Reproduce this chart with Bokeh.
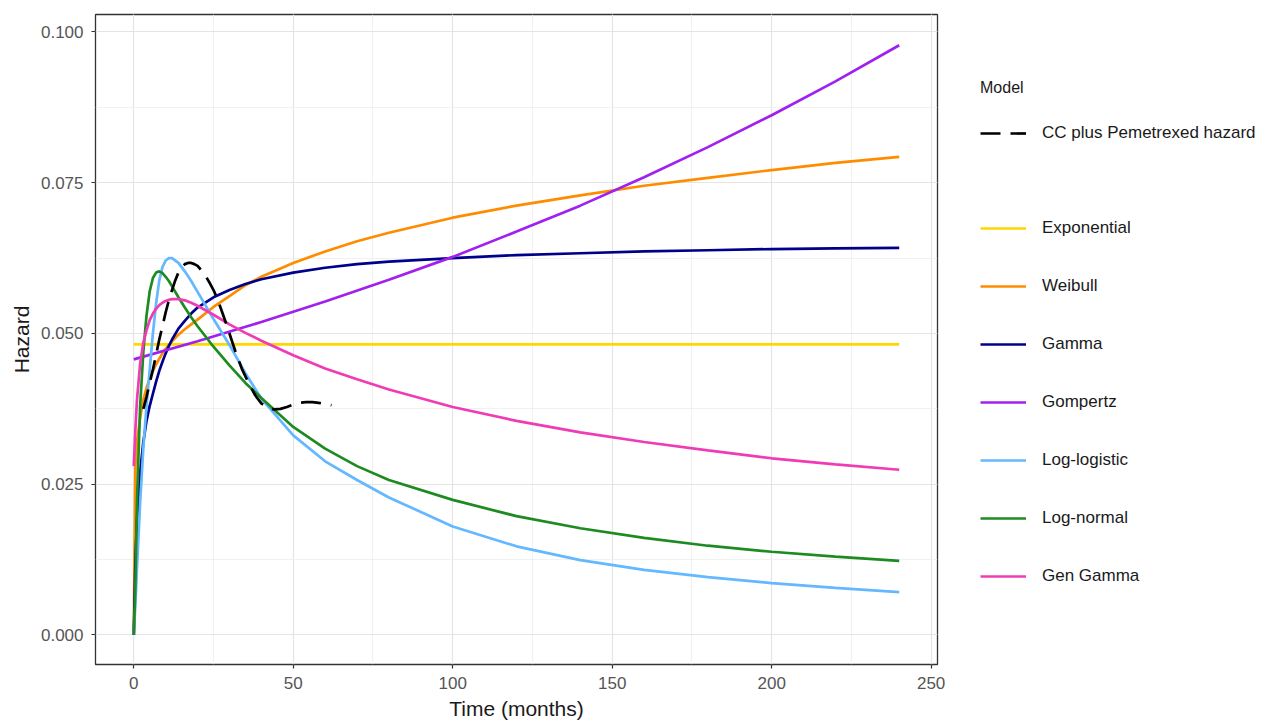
from bokeh.plotting import figure
from bokeh.layouts import row
from bokeh.models import (Legend, LegendItem, Range1d, SingleIntervalTicker,
                          NumeralTickFormatter)
from bokeh.embed import file_html
from bokeh.resources import INLINE

# ---- data: hazard curves (time in months) ----
model_t = [0, 0.5, 1, 2, 3, 4, 5, 6, 7, 8, 9, 10, 11, 12, 14, 16, 18, 20,
           25, 30, 35, 40, 50, 60, 70, 80, 100, 120, 140, 160, 180, 200, 220, 240]

weibull = [0.0, 0.0280, 0.0320, 0.0360, 0.0390, 0.0410, 0.0425, 0.0438, 0.0449,
           0.0458, 0.0467, 0.0475, 0.0481, 0.0487, 0.0498, 0.0507, 0.0515, 0.0523,
           0.0544, 0.0562, 0.0580, 0.0594, 0.0617, 0.0636, 0.0653, 0.0667, 0.0692,
           0.0712, 0.0729, 0.0745, 0.0758, 0.0771, 0.0783, 0.0793]

gamma = [0.0, 0.0120, 0.0190, 0.0270, 0.0320, 0.0355, 0.0380, 0.0400, 0.0420,
         0.0438, 0.0453, 0.0467, 0.0479, 0.0490, 0.0508, 0.0521, 0.0533, 0.0543,
         0.0560, 0.0572, 0.0582, 0.0590, 0.0601, 0.0609, 0.0615, 0.0619, 0.0625,
         0.0630, 0.0633, 0.0636, 0.0638, 0.0640, 0.0641, 0.0642]

log_logistic = [0.0, 0.0050, 0.0110, 0.0220, 0.0310, 0.0380, 0.0440, 0.0500, 0.0550,
                0.0588, 0.0610, 0.0621, 0.0625, 0.0625, 0.0617, 0.0603, 0.0587, 0.0569,
                0.0524, 0.0481, 0.0434, 0.0392, 0.0331, 0.0288, 0.0257, 0.0228, 0.0180,
                0.0147, 0.0124, 0.0108, 0.0096, 0.0086, 0.0078, 0.0071]

log_normal = [0.0, 0.0080, 0.0220, 0.0380, 0.0470, 0.0530, 0.0570, 0.0592, 0.0601,
              0.0603, 0.0600, 0.0594, 0.0587, 0.0578, 0.0560, 0.0543, 0.0527, 0.0512,
              0.0478, 0.0447, 0.0418, 0.0393, 0.0345, 0.0309, 0.0280, 0.0257, 0.0224,
              0.0197, 0.0177, 0.0161, 0.0148, 0.0138, 0.0130, 0.0123]

gen_gamma = [0.0280, 0.0340, 0.0390, 0.0450, 0.0485, 0.0505, 0.0522, 0.0533, 0.0541,
             0.0547, 0.0551, 0.0554, 0.0556, 0.0557, 0.0557, 0.0555, 0.0551, 0.0546,
             0.0531, 0.0515, 0.0501, 0.0488, 0.0464, 0.0442, 0.0424, 0.0407, 0.0378,
             0.0355, 0.0336, 0.0320, 0.0306, 0.0293, 0.0283, 0.0274]

exp_t = [0, 240]
exponential = [0.0482, 0.0482]

gomp_t = [0, 20, 40, 60, 80, 100, 120, 140, 160, 180, 200, 220, 240]
gompertz = [0.0457, 0.0487, 0.0519, 0.0553, 0.0589, 0.0627, 0.0669, 0.0712,
            0.0759, 0.0809, 0.0862, 0.0918, 0.0978]

# observed (smoothed) hazard of the trial arm
obs_t = [3, 4, 5, 6, 7, 8, 9, 10, 11, 12, 13, 14, 15, 16, 17, 18, 19, 20, 21, 22,
         23, 24, 25, 26, 27, 28, 29, 30, 32, 34, 36, 38, 40, 42, 44, 46, 48, 50,
         52, 54, 56, 58, 60, 62]
obs_h = [0.0375, 0.0395, 0.0418, 0.0440, 0.0465, 0.0490, 0.0512, 0.0535, 0.0555,
         0.0572, 0.0588, 0.0601, 0.0610, 0.0615, 0.0617, 0.0617, 0.0615, 0.0612,
         0.0606, 0.0599, 0.0591, 0.0582, 0.0572, 0.0560, 0.0546, 0.0531, 0.0516,
         0.0500, 0.0468, 0.0440, 0.0418, 0.0398, 0.0384, 0.0377, 0.0374, 0.0375,
         0.0378, 0.0382, 0.0385, 0.0386, 0.0386, 0.0385, 0.0383, 0.0381]

model_names = ["Exponential", "Weibull", "Gamma", "Gompertz", "Log-logistic",
               "Log-normal", "Gen Gamma"]
model_colors = ["#FFD700", "#FF8C00", "#00008B", "#A020F0", "#63B8FF",
                "#1E8B22", "#F03CB4"]
model_series = [(exp_t, exponential), (model_t, weibull), (model_t, gamma),
                (gomp_t, gompertz), (model_t, log_logistic), (model_t, log_normal),
                (model_t, gen_gamma)]

FONT = "Liberation Sans"
LW = 2.7
DASH = "20 10"

# ---- main panel ----
p = figure(width=945, height=722,
           x_range=Range1d(-12, 252), y_range=Range1d(-0.0049, 0.1029),
           min_border_left=95, min_border_right=8, min_border_top=14,
           min_border_bottom=58, output_backend="svg", toolbar_location=None,
           background_fill_color="white", border_fill_color="white")

p.outline_line_color = "#333333"
p.outline_line_width = 1.3

xt = SingleIntervalTicker(interval=50, num_minor_ticks=2)
yt = SingleIntervalTicker(interval=0.025, num_minor_ticks=2)
p.xaxis.ticker = xt
p.yaxis.ticker = yt
p.xgrid.ticker = xt
p.ygrid.ticker = yt
for g in (p.xgrid, p.ygrid):
    g.grid_line_color = "#E4E4E4"
    g.grid_line_width = 1.2
    g.minor_grid_line_color = "#EDEDED"
    g.minor_grid_line_width = 0.8

p.yaxis.formatter = NumeralTickFormatter(format="0.000")
for ax in (p.xaxis, p.yaxis):
    ax.axis_line_color = None
    ax.major_tick_out = 4
    ax.major_tick_in = 0
    ax.minor_tick_out = 0
    ax.minor_tick_in = 0
    ax.major_tick_line_color = "#333333"
    ax.major_tick_line_width = 1.2
    ax.major_label_text_font = FONT
    ax.major_label_text_font_size = "17px"
    ax.major_label_text_color = "#555555"
    ax.axis_label_text_font = FONT
    ax.axis_label_text_font_size = "21px"
    ax.axis_label_text_font_style = "normal"
    ax.axis_label_text_color = "#1A1A1A"

p.xaxis.axis_label = "Time (months)"
p.yaxis.axis_label = "Hazard"
p.xaxis.major_label_standoff = 8
p.xaxis.axis_label_standoff = 5
p.yaxis.major_label_standoff = 8
p.yaxis.axis_label_standoff = 5

for name, col, (tt, hh) in zip(model_names, model_colors, model_series):
    p.line(tt, hh, line_color=col, line_width=LW)

p.line(obs_t, obs_h, line_color="black", line_width=LW, line_dash=DASH)

# ---- legend panel (frame is aligned with the main panel's frame) ----
lg = figure(width=320, height=722, x_range=Range1d(0, 1), y_range=Range1d(0, 1),
            min_border=0, x_axis_type=None, y_axis_type=None,
            output_backend="svg", toolbar_location=None,
            background_fill_color="white", border_fill_color="white")
lg.outline_line_color = None
lg.grid.visible = False

nan = float("nan")
obs_key = lg.line([nan], [nan], line_color="black", line_width=LW, line_dash=DASH)
model_items = []
for name, col in zip(model_names, model_colors):
    r = lg.line([nan], [nan], line_color=col, line_width=LW)
    model_items.append(LegendItem(label=name, renderers=[r]))

common = dict(padding=0, margin=0, border_line_color=None,
              background_fill_alpha=0, glyph_width=46, glyph_height=22,
              label_height=22, label_standoff=16,
              label_text_font=FONT, label_text_font_size="17px",
              label_text_color="#1A1A1A")

leg_obs = Legend(items=[LegendItem(label="CC plus Pemetrexed hazard",
                                   renderers=[obs_key])],
                 location=(35, 520), title="Model",
                 title_text_font=FONT, title_text_font_size="16px",
                 title_text_font_style="normal", title_text_color="#1A1A1A",
                 title_standoff=25, **common)

leg_models = Legend(items=model_items, location=(35, 77), spacing=36, **common)

lg.add_layout(leg_obs)
lg.add_layout(leg_models)

layout = row(p, lg)
open("out.html", "w").write(file_html(layout, INLINE))
